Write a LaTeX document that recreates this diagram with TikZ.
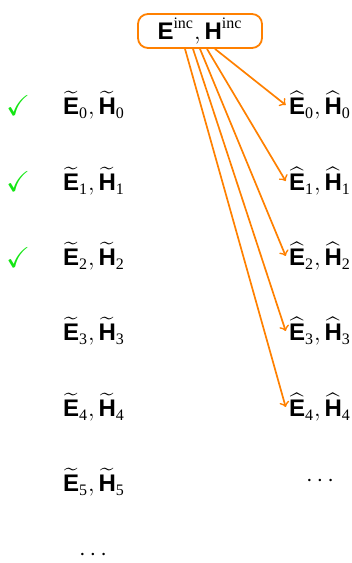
\documentclass[tikz,border=0pt]{standalone}
\usepackage{amsmath,amssymb}
\usepackage{fontspec}
\setmainfont{Liberation Serif}
\setsansfont{Liberation Sans}
\usepackage{xcolor}
\usetikzlibrary{arrows,positioning}

\definecolor{incorange}{RGB}{255,128,0}
\definecolor{okgreen}{RGB}{20,230,20}

\newcommand{\bE}{\text{\sffamily\bfseries E}}
\newcommand{\bH}{\text{\sffamily\bfseries H}}
\newcommand{\tpair}[1]{$\widetilde{\bE}_{\text{#1}},\widetilde{\bH}_{\text{#1}}$}
\newcommand{\hpair}[1]{$\widehat{\bE}_{\text{#1}},\widehat{\bH}_{\text{#1}}$}

\begin{document}
\begin{tikzpicture}[
  x=0.5pt, y=-0.5pt,
  field/.style={inner sep=1.5pt, font=\fontsize{12}{14}\selectfont},
  incbox/.style={field, draw=incorange, line width=0.9pt, rounded corners=5pt,
    minimum width=62pt, minimum height=17pt},
  tick/.style={text=okgreen, font=\Large},
  feed/.style={->, >=to, draw=incorange, line width=0.85pt}
]
\useasboundingbox (0,0) rectangle (352,563);

\node[incbox] (inc) at (200,31) {$\bE^{\text{inc}},\bH^{\text{inc}}$};

% iterates on the left
\node[field] (l0) at (94,105) {\tpair{0}};
\node[field] (l1) at (94,181) {\tpair{1}};
\node[field] (l2) at (94,256) {\tpair{2}};
\node[field] (l3) at (94,331) {\tpair{3}};
\node[field] (l4) at (94,407) {\tpair{4}};
\node[field] (l5) at (94,482) {\tpair{5}};
\node[field] (ldots) at (95,555) {$\cdots$};

\node[tick] (c0) at (18,106) {\checkmark};
\node[tick] (c1) at (18,182) {\checkmark};
\node[tick] (c2) at (18,258) {\checkmark};

% incident-field terms on the right
\node[field] (r0) at (320,105) {\hpair{0}};
\node[field] (r1) at (320,181) {\hpair{1}};
\node[field] (r2) at (320,256) {\hpair{2}};
\node[field] (r3) at (320,331) {\hpair{3}};
\node[field] (r4) at (320,407) {\hpair{4}};
\node[field] (rdots) at (322,481) {$\cdots$};

\draw[feed] (inc.south) ++(15,0) -- (r0.west);
\draw[feed] (inc.south) ++(7,0) -- (r1.west);
\draw[feed] (inc.south) -- (r2.west);
\draw[feed] (inc.south) ++(-7,0) -- (r3.west);
\draw[feed] (inc.south) ++(-15,0) -- (r4.west);
\end{tikzpicture}
\end{document}
